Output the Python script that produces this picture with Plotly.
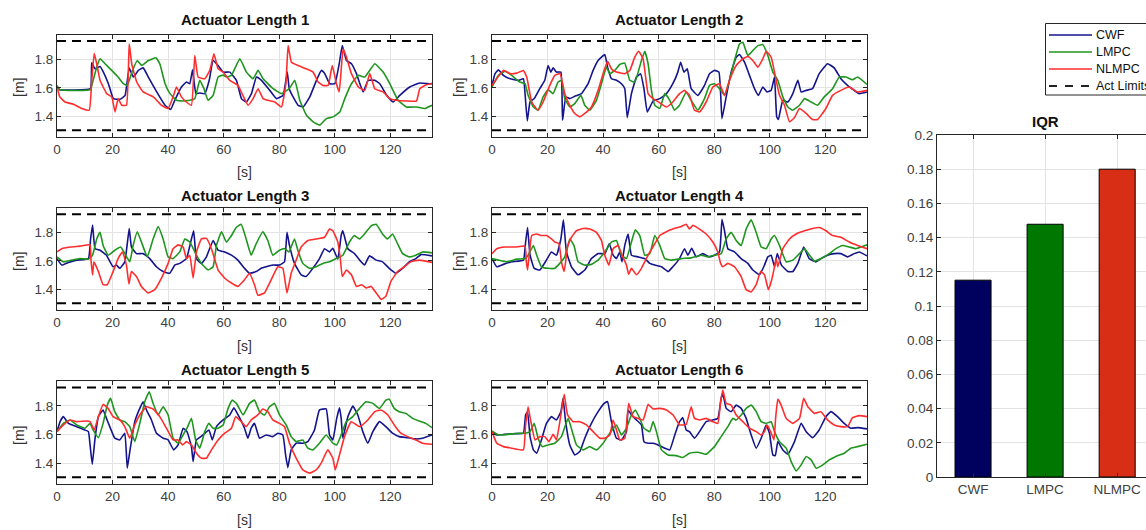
import plotly.graph_objects as go

# ---------------- data ----------------
T_MAX = 135
LIM_HI, LIM_LO = 1.93, 1.30
methods = ["CWF", "LMPC", "NLMPC"]
legend_labels = ["CWF", "LMPC", "NLMPC", "Act Limits"]
iqr = [0.1151, 0.1478, 0.18]
x_ticks = [0, 20, 40, 60, 80, 100, 120]
y_ticks = [1.4, 1.6, 1.8]
bar_ticks = [0, 0.02, 0.04, 0.06, 0.08, 0.1, 0.12, 0.14, 0.16, 0.18, 0.2]

# (time [s], length [m]) samples
cwf_1 = [(0,1.606),(1,1.587),(12,1.594),(12.5,1.777),(13.7,1.734),(15.5,1.751),(16.7,1.711),(18.5,1.629),(20.3,1.524),(22.7,1.519),(24.5,1.547),(26,1.739),(27.5,1.676),(29.3,1.723),(31,1.741),(32.9,1.676),(35.9,1.571),(38.9,1.477),(40.9,1.447),(42.4,1.512),(44.8,1.606),(46.6,1.641),(47.8,1.629),(48.8,1.727),(50,1.559),(51.4,1.564),(53.2,1.559),(54.8,1.653),(56.2,1.793),(58,1.758),(59.8,1.711),(62.2,1.711),(64.6,1.653),(66.4,1.524),(68.2,1.50),(70,1.559),(71.8,1.676),(73.6,1.653),(76.6,1.582),(79,1.524),(81.4,1.547),(82.9,1.711),(83.6,1.594),(85,1.536),(86.8,1.477),(88.6,1.465),(91,1.536),(93.4,1.653),(95.2,1.723),(96.4,1.70),(98.2,1.629),(100,1.629),(101.6,1.77),(102.7,1.898),(104.2,1.793),(106,1.77),(107.8,1.70),(110.2,1.571),(112,1.653),(114.4,1.653),(116.2,1.629),(118.7,1.547),(121,1.50),(123.4,1.547),(127,1.606),(130.6,1.634),(134.2,1.629),(135,1.63)]
lmpc_1 = [(0,1.617),(1,1.587),(12,1.587),(13,1.653),(14.3,1.746),(15.5,1.805),(17.3,1.77),(19.7,1.723),(22,1.676),(23.9,1.629),(25.3,1.617),(27.2,1.723),(28.9,1.793),(30.5,1.758),(32.9,1.793),(35.6,1.812),(37,1.77),(38.9,1.629),(40.7,1.559),(43,1.512),(45.5,1.507),(47.8,1.512),(49.6,1.524),(51.4,1.653),(52.9,1.594),(54.4,1.512),(56.2,1.547),(58,1.676),(59.8,1.69),(61,1.676),(62.8,1.688),(65.8,1.805),(68.2,1.711),(70.6,1.664),(72.4,1.723),(74.2,1.664),(77.8,1.594),(80.8,1.559),(83.6,1.594),(85.6,1.653),(87.4,1.512),(89.8,1.407),(92.2,1.36),(94.6,1.337),(97,1.383),(99.4,1.395),(101.8,1.43),(103.6,1.524),(106,1.629),(108.5,1.688),(110.8,1.676),(114.4,1.77),(117.4,1.711),(119.8,1.629),(122.8,1.512),(125.8,1.465),(129.4,1.465),(132.4,1.454),(135,1.477)]
nlmpc_1 = [(0,1.61),(1,1.536),(2.9,1.50),(5.9,1.484),(8.9,1.454),(11.6,1.442),(12.5,1.653),(13.4,1.844),(14.3,1.77),(15.5,1.653),(17.9,1.559),(19.7,1.536),(20.9,1.43),(22,1.524),(23.3,1.477),(25,1.477),(26,1.91),(26.9,1.77),(28.7,1.641),(31,1.571),(34.7,1.536),(37.6,1.477),(40,1.454),(41.8,1.536),(43,1.606),(44.8,1.536),(46.6,1.50),(48.4,1.477),(49.6,1.828),(50.8,1.676),(53.2,1.664),(55,1.723),(56.5,1.84),(58,1.734),(59.8,1.711),(62.2,1.653),(65.2,1.617),(66.9,1.547),(68.8,1.477),(70.6,1.524),(72.4,1.594),(74.2,1.524),(76,1.512),(78.4,1.50),(80.8,1.465),(82.4,1.629),(83.2,1.898),(84.4,1.781),(86.8,1.758),(89.8,1.734),(92.2,1.711),(94,1.641),(95.8,1.617),(97.6,1.617),(99.1,1.758),(100.6,1.629),(101.6,1.571),(103,1.875),(104.2,1.816),(106,1.70),(108.5,1.606),(110.8,1.582),(112.6,1.70),(114.4,1.594),(117.4,1.571),(119.8,1.524),(122.2,1.512),(125.8,1.507),(129.4,1.507),(130.6,1.594),(133,1.622),(135,1.629)]

cwf_2 = [(0,1.617),(1.1,1.70),(2.3,1.727),(4.1,1.688),(6.5,1.664),(9.5,1.653),(11.3,1.664),(11.9,1.559),(12.7,1.367),(13.7,1.50),(15.2,1.524),(17.2,1.594),(19,1.653),(20.2,1.758),(21.2,1.711),(22,1.741),(23.2,1.711),(24.8,1.711),(25.4,1.371),(26.6,1.536),(28,1.524),(29.8,1.54),(32.2,1.559),(34.6,1.629),(36.4,1.723),(38.2,1.793),(40.6,1.835),(41.6,1.746),(43,1.664),(44.8,1.653),(46.6,1.629),(47.8,1.594),(48.7,1.39),(50.2,1.559),(52,1.676),(53.5,1.70),(54.7,1.594),(55.9,1.43),(58,1.507),(60.4,1.524),(62.8,1.559),(65.1,1.629),(66.9,1.711),(67.9,1.781),(69.1,1.711),(70.3,1.734),(71.7,1.594),(74.1,1.547),(76.5,1.617),(78.3,1.70),(80.1,1.723),(81.7,1.711),(82.8,1.383),(84.3,1.536),(86.1,1.711),(87.9,1.816),(89.1,1.835),(90.9,1.781),(92.7,1.688),(94.5,1.594),(95.9,1.547),(97.5,1.606),(99,1.571),(100.5,1.582),(101.7,1.676),(102.5,1.395),(103.1,1.376),(104.7,1.512),(106.5,1.50),(108.3,1.559),(110.1,1.653),(111.3,1.571),(113.1,1.582),(115.4,1.594),(117.8,1.70),(120.8,1.77),(123.2,1.741),(125.6,1.664),(128,1.617),(130.4,1.582),(132.2,1.559),(135,1.571)]
lmpc_2 = [(0,1.606),(2.3,1.688),(4.7,1.718),(7.1,1.688),(10,1.641),(11.9,1.629),(13,1.547),(14.9,1.465),(16.6,1.442),(18.4,1.536),(20.2,1.587),(22,1.559),(23.8,1.641),(25,1.653),(26.2,1.524),(28,1.465),(29.8,1.489),(32,1.547),(33.4,1.477),(35.2,1.442),(37.6,1.512),(39.4,1.629),(41.2,1.746),(42.4,1.70),(44.2,1.723),(46,1.765),(47.8,1.774),(49.6,1.653),(51.4,1.641),(53.8,1.793),(55,1.858),(56.2,1.77),(57.4,1.582),(58.6,1.477),(60.4,1.454),(62.2,1.559),(64,1.512),(65.7,1.442),(67.5,1.477),(69.9,1.571),(71.7,1.512),(74.1,1.442),(76.5,1.524),(78.3,1.617),(80.1,1.629),(81.9,1.594),(83.7,1.547),(85.5,1.653),(87.3,1.793),(89.1,1.91),(90.3,1.922),(92.1,1.828),(93.9,1.863),(95.7,1.898),(97.5,1.905),(99.3,1.828),(101.1,1.711),(102.9,1.653),(104.7,1.536),(106.5,1.465),(108.3,1.442),(110.7,1.477),(112.5,1.524),(114.9,1.50),(117.2,1.477),(119.6,1.536),(122.6,1.594),(125,1.676),(127.4,1.676),(129.8,1.657),(131.6,1.676),(135,1.624)]
nlmpc_2 = [(0,1.617),(1.7,1.664),(4.1,1.723),(6.5,1.70),(8.9,1.704),(11.3,1.723),(12.5,1.676),(14.3,1.50),(16.6,1.442),(18.4,1.50),(20.8,1.617),(22.6,1.688),(24.5,1.70),(26.2,1.559),(28,1.477),(29.8,1.419),(31.6,1.395),(33.4,1.419),(35.8,1.465),(38.2,1.582),(40,1.70),(41.6,1.788),(43,1.734),(44.8,1.711),(47.8,1.70),(49.6,1.723),(51.4,1.816),(52.8,1.858),(54.4,1.805),(56.2,1.559),(58,1.524),(60.4,1.494),(62.8,1.465),(65.1,1.50),(67.5,1.559),(69.3,1.582),(71.1,1.547),(72.9,1.442),(74.7,1.43),(77.1,1.50),(79.5,1.606),(81.9,1.629),(83.7,1.547),(85.5,1.653),(87.9,1.758),(90.3,1.805),(92.1,1.821),(93.9,1.793),(95.7,1.746),(97.5,1.805),(98.7,1.858),(100.5,1.816),(102.3,1.653),(103.5,1.547),(105.3,1.477),(107.1,1.36),(108.9,1.39),(110.7,1.454),(113.1,1.419),(115.4,1.376),(117.2,1.376),(120.2,1.454),(122.6,1.547),(125.6,1.582),(128.6,1.606),(131.6,1.571),(135,1.582)]

cwf_3 = [(0,1.617),(1.7,1.571),(4.1,1.59),(7.1,1.606),(11.3,1.617),(12.1,1.756),(12.8,1.854),(13.7,1.687),(15.5,1.676),(17.8,1.641),(20.2,1.559),(21.4,1.571),(22.6,1.548),(24.4,1.594),(26,1.83),(26.8,1.699),(28.6,1.652),(31,1.652),(33.4,1.617),(35.8,1.559),(38.2,1.525),(40.6,1.513),(42.4,1.571),(44.2,1.583),(46.6,1.617),(48.4,1.756),(49.2,1.814),(50.2,1.617),(52,1.583),(53.8,1.629),(56.2,1.745),(58,1.676),(60.4,1.664),(62.8,1.641),(65.1,1.606),(67.5,1.548),(69.3,1.513),(71.7,1.525),(73.5,1.548),(75.3,1.559),(77.7,1.571),(80.1,1.571),(81.9,1.594),(82.8,1.803),(83.7,1.71),(85.5,1.583),(87.9,1.502),(89.7,1.49),(92.1,1.548),(94.5,1.617),(96.3,1.687),(98.1,1.664),(99.3,1.69),(101.1,1.614),(102.3,1.78),(102.9,1.814),(104.7,1.687),(107.1,1.652),(109.5,1.594),(110.7,1.571),(112.5,1.636),(114.9,1.606),(117.2,1.594),(119.6,1.548),(122,1.513),(124.4,1.548),(126.8,1.594),(129.2,1.617),(131,1.645),(135,1.636)]
lmpc_3 = [(0,1.629),(2.3,1.594),(5.3,1.606),(8.3,1.617),(11.3,1.613),(12.8,1.641),(14.3,1.756),(15.5,1.803),(16.6,1.71),(18.4,1.641),(20.8,1.676),(22.9,1.699),(24.4,1.652),(26.2,1.594),(27.4,1.71),(28.9,1.807),(30.4,1.734),(32.5,1.629),(34.6,1.756),(36.4,1.844),(38.2,1.756),(40,1.629),(41.8,1.617),(44.2,1.664),(46,1.756),(47.8,1.734),(50.2,1.641),(52,1.583),(54.4,1.536),(56.2,1.559),(57.4,1.71),(59.2,1.807),(61,1.734),(62.8,1.78),(64.5,1.837),(66.3,1.86),(68.1,1.756),(69.9,1.641),(71.7,1.722),(74.1,1.807),(75.9,1.745),(77.7,1.641),(80.1,1.676),(81.9,1.687),(83.5,1.664),(85.5,1.756),(86.7,1.676),(88.5,1.583),(90.9,1.548),(93.3,1.559),(95.7,1.583),(98.1,1.594),(100.5,1.617),(102.9,1.641),(105.3,1.734),(107.1,1.78),(108.9,1.756),(110.7,1.791),(113.1,1.849),(114.9,1.86),(117.2,1.791),(119,1.756),(120.8,1.791),(122.6,1.722),(124.4,1.652),(126.8,1.629),(129.2,1.641),(131.6,1.664),(135,1.657)]
nlmpc_3 = [(0,1.664),(1.7,1.687),(4.7,1.699),(8.3,1.705),(11.9,1.714),(12.2,1.617),(12.8,1.502),(13.3,1.594),(14.9,1.525),(16.6,1.432),(18.1,1.432),(20.2,1.525),(22,1.617),(23.6,1.664),(25,1.571),(25.9,1.437),(26.8,1.525),(28.6,1.49),(30.4,1.42),(32.8,1.374),(35.2,1.397),(37.6,1.478),(40,1.583),(41.8,1.687),(43.6,1.714),(45.4,1.699),(46.6,1.617),(47.8,1.641),(49,1.478),(50.2,1.664),(52,1.756),(53.8,1.76),(55.6,1.687),(58,1.536),(60.4,1.478),(62.8,1.444),(65.1,1.42),(67.5,1.467),(69.3,1.513),(71.1,1.432),(72.3,1.358),(74.7,1.374),(77.1,1.467),(79.5,1.559),(81.3,1.548),(82.8,1.374),(84.3,1.513),(86.1,1.606),(87.9,1.699),(90.3,1.745),(93.3,1.756),(96.3,1.768),(98.1,1.826),(99.3,1.814),(101.1,1.734),(102,1.617),(102.7,1.49),(104.2,1.536),(106,1.502),(107.8,1.42),(109.7,1.432),(111.3,1.409),(113.1,1.42),(114.9,1.374),(116.7,1.328),(118.4,1.351),(120.2,1.455),(122.6,1.525),(125,1.559),(127.4,1.594),(130.4,1.606),(135,1.59)]

cwf_4 = [(0,1.617),(1.7,1.559),(4.1,1.576),(7.1,1.594),(11.3,1.606),(12.1,1.734),(12.8,1.837),(13.7,1.641),(15.2,1.548),(17.2,1.536),(19.6,1.606),(21.4,1.664),(23.2,1.641),(24.8,1.756),(25.7,1.891),(26.8,1.664),(28.6,1.559),(31,1.502),(33.4,1.536),(35.8,1.617),(38.2,1.652),(40.6,1.652),(42.2,1.722),(43.6,1.641),(44.8,1.617),(46,1.664),(46.8,1.594),(47.8,1.71),(49,1.791),(50.2,1.641),(52.6,1.629),(55,1.617),(56.8,1.583),(58.6,1.571),(61,1.559),(63.4,1.525),(65.1,1.559),(67.5,1.617),(69.3,1.687),(70.5,1.641),(71.9,1.69),(73.5,1.629),(75.9,1.652),(78.3,1.629),(80.1,1.641),(81.9,1.664),(82.8,1.895),(83.7,1.814),(84.9,1.687),(87.3,1.664),(89.7,1.617),(92.1,1.583),(93.9,1.536),(96.3,1.502),(98.1,1.571),(99.3,1.629),(100.5,1.641),(101.7,1.559),(102.7,1.652),(104.2,1.571),(106.5,1.525),(108.3,1.525),(110.1,1.583),(112.2,1.699),(114.2,1.617),(116.6,1.594),(118.4,1.617),(120.8,1.641),(123.2,1.652),(125.6,1.652),(128,1.629),(130.4,1.652),(132.2,1.664),(135,1.636)]
lmpc_4 = [(0,1.617),(2.3,1.606),(5.3,1.594),(8.9,1.613),(11.9,1.617),(13,1.641),(14.9,1.71),(16.1,1.641),(17.8,1.559),(20.2,1.548),(22.6,1.548),(24.4,1.583),(26.2,1.629),(28,1.756),(29.5,1.71),(31,1.594),(33.4,1.571),(35.8,1.576),(38.2,1.606),(40.6,1.664),(43,1.734),(44.8,1.745),(46.6,1.641),(48.4,1.617),(50.2,1.734),(51.6,1.821),(53.2,1.78),(55,1.641),(56.8,1.652),(58.6,1.78),(60.4,1.71),(62.2,1.617),(64.5,1.606),(68.1,1.617),(71.7,1.622),(75.3,1.641),(77.7,1.629),(80.1,1.641),(82.5,1.652),(84.3,1.756),(86.1,1.803),(87.9,1.745),(89.7,1.71),(91.5,1.826),(93.3,1.891),(95.1,1.803),(96.9,1.699),(98.7,1.687),(100.5,1.756),(101.7,1.78),(103.5,1.71),(105.9,1.594),(108.3,1.606),(110.7,1.652),(112.5,1.687),(114.3,1.641),(116.1,1.599),(118.5,1.617),(121.4,1.652),(123.8,1.687),(126.2,1.71),(128.6,1.699),(131,1.687),(132.8,1.699),(135,1.714)]
nlmpc_4 = [(0,1.652),(1.7,1.687),(4.7,1.699),(8.3,1.699),(11.9,1.705),(12.3,1.606),(12.8,1.536),(13.4,1.641),(14.3,1.78),(16.1,1.791),(17.8,1.78),(19.6,1.78),(21.4,1.756),(22.6,1.734),(24.1,1.722),(25,1.594),(26,1.525),(27.2,1.699),(28.6,1.768),(30.4,1.814),(32.8,1.83),(35.2,1.826),(37.6,1.803),(39.4,1.745),(40.6,1.641),(42.1,1.571),(43.6,1.687),(45.4,1.71),(46.8,1.641),(48.4,1.571),(49.2,1.506),(50.2,1.548),(52,1.502),(53.8,1.548),(56.2,1.641),(58.6,1.722),(60.4,1.78),(62.8,1.807),(65.1,1.826),(68.1,1.844),(69.9,1.86),(71.1,1.826),(72.3,1.853),(74.7,1.826),(77.1,1.791),(79.5,1.734),(81.3,1.664),(82.3,1.583),(83.1,1.559),(84.9,1.583),(87.3,1.559),(89.7,1.49),(91.5,1.397),(93.3,1.381),(95.1,1.432),(96.7,1.525),(98.1,1.502),(99.5,1.397),(100.7,1.467),(101.7,1.559),(102.3,1.617),(102.9,1.559),(104.7,1.687),(107.1,1.756),(109.5,1.791),(112.5,1.814),(115.4,1.83),(117.8,1.837),(120.2,1.814),(122.6,1.78),(125.6,1.768),(128.6,1.734),(131.6,1.71),(135,1.687)]

cwf_5 = [(0,1.62),(1.1,1.69),(2.3,1.725),(4.1,1.678),(7.1,1.655),(10,1.632),(11.3,1.62),(11.9,1.527),(12.7,1.392),(13.7,1.574),(14.9,1.725),(16.6,1.772),(17.8,1.713),(19,1.655),(20.8,1.574),(22.6,1.562),(24.4,1.609),(25.3,1.364),(26.2,1.48),(28,1.69),(29.8,1.783),(31,1.83),(32.2,1.772),(34,1.702),(35.8,1.609),(38.2,1.574),(40,1.562),(42,1.492),(43.6,1.527),(45.4,1.644),(46.8,1.62),(48.4,1.515),(49,1.41),(50.2,1.562),(52.6,1.597),(54.7,1.632),(55.9,1.562),(57.4,1.655),(59.8,1.702),(62.2,1.737),(63.7,1.788),(65.2,1.737),(67.5,1.644),(68.7,1.574),(69.9,1.644),(71.1,1.678),(72.9,1.574),(75.3,1.597),(77.7,1.585),(79.5,1.609),(81.3,1.597),(82.3,1.457),(83.1,1.368),(84.3,1.492),(86.1,1.539),(88.5,1.539),(90.3,1.55),(92.7,1.632),(94.5,1.772),(96.9,1.779),(98.1,1.597),(99.3,1.562),(100.7,1.713),(101.7,1.788),(102.3,1.713),(102.9,1.574),(104.7,1.725),(106.5,1.799),(108.3,1.737),(110.1,1.62),(111.9,1.539),(113.7,1.62),(116.1,1.69),(118.4,1.655),(120.8,1.609),(123.2,1.585),(126.2,1.578),(129.2,1.569),(131.6,1.574),(135,1.597)]
lmpc_5 = [(0,1.62),(2.3,1.678),(4.7,1.702),(7.1,1.667),(10,1.644),(11.9,1.678),(13,1.632),(14.9,1.578),(16.6,1.678),(18.1,1.806),(19.3,1.853),(20.8,1.76),(22.6,1.702),(24.4,1.69),(26.2,1.655),(28,1.55),(29.8,1.678),(31.6,1.83),(33.2,1.90),(34.6,1.818),(36.4,1.737),(38.2,1.794),(40,1.737),(41.8,1.574),(43.6,1.539),(45.4,1.597),(46.8,1.644),(48.4,1.713),(49.9,1.562),(51.4,1.504),(53.2,1.62),(54.7,1.678),(56.2,1.644),(58,1.644),(59.8,1.667),(61.6,1.783),(63.1,1.841),(64.6,1.818),(67,1.737),(69.3,1.818),(71.1,1.841),(72.9,1.76),(74.7,1.737),(76.5,1.794),(78.3,1.818),(80.1,1.737),(82.5,1.667),(84.3,1.585),(86.1,1.55),(88.5,1.562),(90.3,1.504),(92.1,1.492),(94.5,1.539),(96.9,1.597),(99.3,1.539),(100.7,1.527),(102.3,1.597),(104.1,1.69),(106.5,1.725),(108.9,1.783),(111.2,1.83),(113.7,1.818),(116.1,1.783),(118.4,1.841),(119.6,1.848),(121.4,1.783),(123.2,1.76),(125.6,1.748),(128,1.713),(130.4,1.695),(132.8,1.678),(135,1.648)]
nlmpc_5 = [(0,1.62),(2.3,1.667),(4.7,1.702),(7.1,1.69),(10.7,1.695),(11.9,1.69),(13.4,1.632),(14.9,1.725),(16.6,1.811),(18.4,1.783),(20.2,1.725),(22.6,1.702),(24.4,1.655),(26.2,1.574),(28,1.667),(29.8,1.737),(32.2,1.794),(34.6,1.779),(37,1.725),(39.4,1.644),(41.8,1.562),(43.6,1.562),(45.2,1.527),(46.6,1.55),(48.4,1.527),(50.2,1.469),(52,1.434),(53.8,1.434),(55.6,1.492),(58,1.562),(60.4,1.609),(62.8,1.644),(64.3,1.725),(66.3,1.69),(68.1,1.655),(69.9,1.702),(72.3,1.737),(74.1,1.779),(75.9,1.76),(77.7,1.702),(80.1,1.678),(81.9,1.655),(83.7,1.539),(86.1,1.434),(88.5,1.352),(90.9,1.329),(93.3,1.352),(95.1,1.399),(97.5,1.492),(99.3,1.434),(100.2,1.352),(101.7,1.457),(103.5,1.585),(105.9,1.69),(108.9,1.655),(111.9,1.702),(114.4,1.76),(116.7,1.772),(119.1,1.737),(121.4,1.667),(123.8,1.609),(126.2,1.585),(129.2,1.562),(131.6,1.539),(135,1.532)]

cwf_6 = [(0,1.62),(1.7,1.597),(4.7,1.601),(8.3,1.606),(11.3,1.609),(12.1,1.737),(12.8,1.76),(13.7,1.585),(14.9,1.492),(16.1,1.469),(17.8,1.562),(19.6,1.678),(21.4,1.725),(23.2,1.702),(24.8,1.76),(25.6,1.853),(26.5,1.69),(28,1.527),(29.8,1.457),(31.6,1.48),(33.4,1.574),(35.8,1.678),(38.2,1.76),(40.4,1.818),(41.6,1.83),(43,1.69),(44.8,1.574),(46.6,1.562),(48.4,1.62),(49,1.772),(50.2,1.737),(52,1.702),(53.8,1.667),(54.7,1.55),(56.2,1.539),(58,1.539),(59.8,1.527),(62.2,1.504),(64,1.492),(65.8,1.597),(67.5,1.69),(68.7,1.718),(69.9,1.632),(71.1,1.62),(72.9,1.574),(74.7,1.62),(77.1,1.69),(79.5,1.702),(81.3,1.713),(82.5,1.853),(83.1,1.888),(84.3,1.783),(86.1,1.76),(87.9,1.806),(89.7,1.783),(91.5,1.713),(93.3,1.597),(95.1,1.504),(96.9,1.574),(98.7,1.667),(99.9,1.609),(101.1,1.457),(102,1.452),(102.9,1.55),(104.7,1.492),(106.5,1.462),(108.9,1.55),(111.3,1.678),(113.1,1.62),(115.4,1.578),(117.8,1.632),(120.2,1.725),(122,1.76),(124.4,1.725),(126.8,1.678),(129.2,1.644),(131.6,1.648),(135,1.639)]
lmpc_6 = [(0,1.625),(2.3,1.597),(5.9,1.601),(9.5,1.609),(11.9,1.609),(13.7,1.62),(15.2,1.678),(16.6,1.574),(18.1,1.515),(20.2,1.527),(22.6,1.539),(25,1.585),(27.4,1.713),(28.9,1.62),(30.4,1.527),(32.8,1.492),(35.2,1.515),(37.6,1.492),(40,1.539),(42.4,1.609),(44.8,1.667),(46.6,1.597),(48.4,1.644),(50.2,1.737),(51.6,1.772),(53.2,1.713),(54.7,1.644),(56.8,1.62),(58,1.69),(59.2,1.62),(61,1.492),(63.4,1.457),(66.3,1.452),(68.7,1.439),(71.1,1.469),(74.1,1.476),(77.1,1.462),(80.1,1.515),(82.5,1.585),(84.9,1.655),(86.7,1.713),(87.9,1.702),(89.7,1.737),(91.5,1.783),(93.3,1.806),(95.1,1.76),(96.9,1.69),(98.7,1.678),(100.5,1.69),(101.7,1.62),(103.5,1.55),(105.9,1.504),(107.7,1.41),(109.5,1.345),(111.3,1.387),(113.1,1.446),(114.9,1.422),(116.7,1.364),(119.1,1.387),(121.4,1.422),(123.8,1.446),(126.8,1.469),(129.2,1.504),(131.6,1.515),(135,1.532)]
nlmpc_6 = [(0,1.62),(1.7,1.539),(4.1,1.515),(7.1,1.504),(11.3,1.492),(12.1,1.667),(13,1.794),(14,1.69),(15.5,1.562),(17.2,1.585),(19,1.585),(20.5,1.55),(22,1.601),(23.2,1.562),(24.8,1.737),(26,1.881),(27.2,1.737),(29.2,1.69),(31.6,1.69),(34,1.667),(36.4,1.62),(38.8,1.574),(40.6,1.574),(42.4,1.597),(43.6,1.702),(44.8,1.632),(46,1.562),(47.8,1.574),(49.2,1.818),(50.8,1.725),(52.6,1.713),(54.4,1.702),(56.2,1.811),(58,1.779),(60.4,1.783),(62.8,1.772),(65.2,1.737),(67.5,1.667),(69.9,1.671),(71.7,1.794),(72.9,1.713),(74.7,1.702),(77.1,1.713),(79.5,1.69),(81.3,1.678),(82.3,1.83),(83.1,1.911),(84.3,1.818),(86.1,1.806),(87.9,1.737),(90.3,1.69),(92.7,1.644),(95.1,1.62),(96.9,1.597),(98.1,1.62),(99.1,1.667),(100.3,1.62),(101.5,1.562),(102.1,1.713),(102.9,1.848),(104.1,1.806),(105.9,1.713),(108.3,1.678),(110.7,1.713),(112.2,1.853),(113.7,1.794),(116.1,1.748),(118.4,1.76),(120.8,1.702),(123.2,1.667),(125.6,1.655),(128,1.655),(129.8,1.718),(132.2,1.732),(135,1.725)]

series = [
    (cwf_1, lmpc_1, nlmpc_1), (cwf_2, lmpc_2, nlmpc_2),
    (cwf_3, lmpc_3, nlmpc_3), (cwf_4, lmpc_4, nlmpc_4),
    (cwf_5, lmpc_5, nlmpc_5), (cwf_6, lmpc_6, nlmpc_6),
]

# ---------------- style ----------------
FONT = "Liberation Sans, Arial, Helvetica, sans-serif"
AX_COL = "#262626"
TICK_COL = "#404040"
GRID = "#e3e3e3"
line_cols = ["#14148c", "#1e961e", "#ff2d2d"]
bar_cols = ["#00005e", "#007800", "#d82e16"]
TICK_SIZE = 13.5

W, H = 1146, 530
xdom = [[57 / W, 432 / W], [492 / W, 867 / W]]
ydom = [[1 - 137 / H, 1 - 34.7 / H], [1 - 310 / H, 1 - 208 / H], [1 - 484 / H, 1 - 381 / H]]

fig = go.Figure()
layout = dict(
    width=W, height=H, paper_bgcolor="white", plot_bgcolor="white",
    margin=dict(l=0, r=0, t=0, b=0, autoexpand=False),
    font=dict(family=FONT, size=12, color=AX_COL),
    showlegend=False,
)
annotations = []
shapes = []

for k, (s_cwf, s_lmpc, s_nlmpc) in enumerate(series):
    r, c = divmod(k, 2)
    n = k + 1
    xa, ya = ("x", "y") if n == 1 else (f"x{n}", f"y{n}")
    for j, s in enumerate((s_cwf, s_lmpc, s_nlmpc)):
        fig.add_trace(go.Scatter(
            x=[p[0] for p in s], y=[p[1] for p in s], mode="lines",
            line=dict(color=line_cols[j], width=1.6, shape="spline", smoothing=0.35),
            name=methods[j], xaxis=xa, yaxis=ya, hoverinfo="skip"))
    fig.add_trace(go.Scatter(
        x=[0, T_MAX, None, 0, T_MAX], y=[LIM_HI, LIM_HI, None, LIM_LO, LIM_LO],
        mode="lines", line=dict(color="black", width=2, dash="9px,6px"),
        name="Act Limits", xaxis=xa, yaxis=ya, hoverinfo="skip"))
    axcommon = dict(showline=True, linecolor=AX_COL, linewidth=1, mirror="ticks",
                    ticks="inside", ticklen=4, tickcolor=AX_COL, tickwidth=1,
                    showgrid=True, gridcolor=GRID, gridwidth=1, zeroline=False,
                    tickfont=dict(size=TICK_SIZE, color=TICK_COL))
    xkey = "xaxis" if n == 1 else f"xaxis{n}"
    ykey = "yaxis" if n == 1 else f"yaxis{n}"
    layout[xkey] = dict(domain=xdom[c], anchor=ya, range=[0, T_MAX],
                        tickvals=x_ticks, **axcommon)
    layout[ykey] = dict(domain=ydom[r], anchor=xa, range=[1.253, 1.975],
                        tickvals=y_ticks, tickformat=".1f", **axcommon)
    cx = (xdom[c][0] + xdom[c][1]) / 2
    title_y = [20, 196, 369][r]
    s_y = [172, 346, 520][r]
    m_y = [88, 262, 436][r]
    m_x = [19, 459][c]
    annotations += [
        dict(text=f"<b>Actuator Length {n}</b>", x=cx, y=1 - title_y / H,
             xref="paper", yref="paper", showarrow=False, xanchor="center",
             yanchor="middle", font=dict(size=15, color="#111111")),
        dict(text="[s]", x=cx, y=1 - s_y / H, xref="paper", yref="paper",
             showarrow=False, xanchor="center", yanchor="middle",
             font=dict(size=14, color="#333333")),
        dict(text="[m]", x=m_x / W, y=1 - m_y / H, xref="paper", yref="paper",
             showarrow=False, xanchor="center", yanchor="middle", textangle=-90,
             font=dict(size=14, color="#333333")),
    ]

# IQR bar chart
fig.add_trace(go.Bar(
    x=[1, 2, 3], y=iqr, width=0.5,
    marker=dict(color=bar_cols, line=dict(color="black", width=1)),
    xaxis="x7", yaxis="y7", hoverinfo="skip"))
layout["xaxis7"] = dict(domain=[937 / W, 1.0], anchor="y7", range=[0.5, 3.4],
                        tickvals=[1, 2, 3], ticktext=methods, showline=True,
                        linecolor=AX_COL, mirror="ticks", ticks="inside", ticklen=4,
                        tickcolor=AX_COL, showgrid=True, gridcolor=GRID, zeroline=False,
                        tickfont=dict(size=TICK_SIZE, color=TICK_COL))
layout["yaxis7"] = dict(domain=[1 - 477 / H, 1 - 135 / H], anchor="x7", range=[0, 0.2],
                        tickvals=bar_ticks, showline=True, linecolor=AX_COL, mirror=False,
                        ticks="inside", ticklen=4, tickcolor=AX_COL, showgrid=True,
                        gridcolor=GRID, zeroline=False,
                        tickfont=dict(size=TICK_SIZE, color=TICK_COL))
annotations.append(dict(text="<b>IQR</b>", x=1045 / W, y=1 - 122 / H, xref="paper",
                        yref="paper", showarrow=False, xanchor="center", yanchor="middle",
                        font=dict(size=15, color="#111111")))

# legend box (drawn in paper space, partially clipped at the right edge like the reference)
leg_rows = [35, 52, 69, 86]
leg_styles = [dict(color=line_cols[0], width=1.6), dict(color=line_cols[1], width=1.6),
              dict(color=line_cols[2], width=1.6), dict(color="#222222", width=2, dash="8px,8px")]
shapes.append(dict(type="rect", xref="paper", yref="paper", x0=1045.5 / W, x1=1170 / W,
                   y0=1 - 95 / H, y1=1 - 23.5 / H, line=dict(color=AX_COL, width=1),
                   fillcolor="white", layer="above"))
for yy, lab, st in zip(leg_rows, legend_labels, leg_styles):
    shapes.append(dict(type="line", xref="paper", yref="paper", x0=1049 / W, x1=1092 / W,
                       y0=1 - yy / H, y1=1 - yy / H, line=st, layer="above"))
    annotations.append(dict(text=lab, x=1094 / W, y=1 - yy / H, xref="paper", yref="paper",
                            showarrow=False, xanchor="left", yanchor="middle",
                            font=dict(size=12.5, color="#111111")))

layout["annotations"] = annotations
layout["shapes"] = shapes
fig.update_layout(**layout)
fig.write_html("out.html")
